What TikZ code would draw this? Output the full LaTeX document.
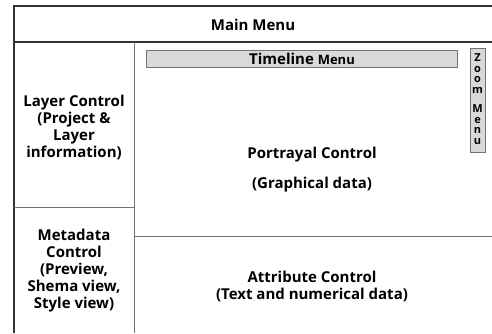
\documentclass[tikz,border=0pt]{standalone}
\usepackage{fontspec}
\setmainfont{Open Sans}
\begin{document}
\begin{tikzpicture}[x=1pt,y=-1pt,
  frame/.style={draw=black!80,line width=1.1pt},
  divider/.style={draw=black!55,line width=1pt},
  menubar/.style={draw=black!55,fill=black!15,line width=0.9pt},
  label/.style={font=\bfseries\fontsize{15}{17}\selectfont,align=center,inner sep=0pt},
  zoomtxt/.style={font=\bfseries\fontsize{11}{10.5}\selectfont,align=center,inner sep=0pt}]
\useasboundingbox (0,0) rectangle (492,333);
\fill[white] (0,0) rectangle (492,333);

% outer frame and main menu strip
\draw[frame] (14,333) -- (14,6) -- (492,6);
\draw[frame] (14,42) -- (492,42);
% left column and its split
\draw[divider] (134,42) -- (134,333);
\draw[divider] (14,207) -- (134,207);
% portrayal / attribute split
\draw[divider] (134,236) -- (492,236);

% timeline and zoom menus
\draw[menubar] (146,50) rectangle (457,67);
\draw[menubar] (470,48) rectangle (485,152);

\node[label] (main) at (253,25) {Main Menu};
\node[label] (timeline) at (302,58.5) {Timeline {\fontsize{13}{14}\selectfont Menu}};
\node[zoomtxt] (zoom) at (477.5,99) {Z\\o\\o\\m\\[9pt]M\\e\\n\\u};

\node[label] (layer) at (74,127) {Layer Control\\(Project \&\\Layer\\information)};
\node[label] (meta) at (74,271) {Metadata\\Control\\(Preview,\\Shema view,\\Style view)};
\node[label] (portray) at (312,170) {Portrayal Control\\[13pt](Graphical data)};
\node[label] (attr) at (312,286.5) {Attribute Control\\(Text and numerical data)};
\end{tikzpicture}
\end{document}
